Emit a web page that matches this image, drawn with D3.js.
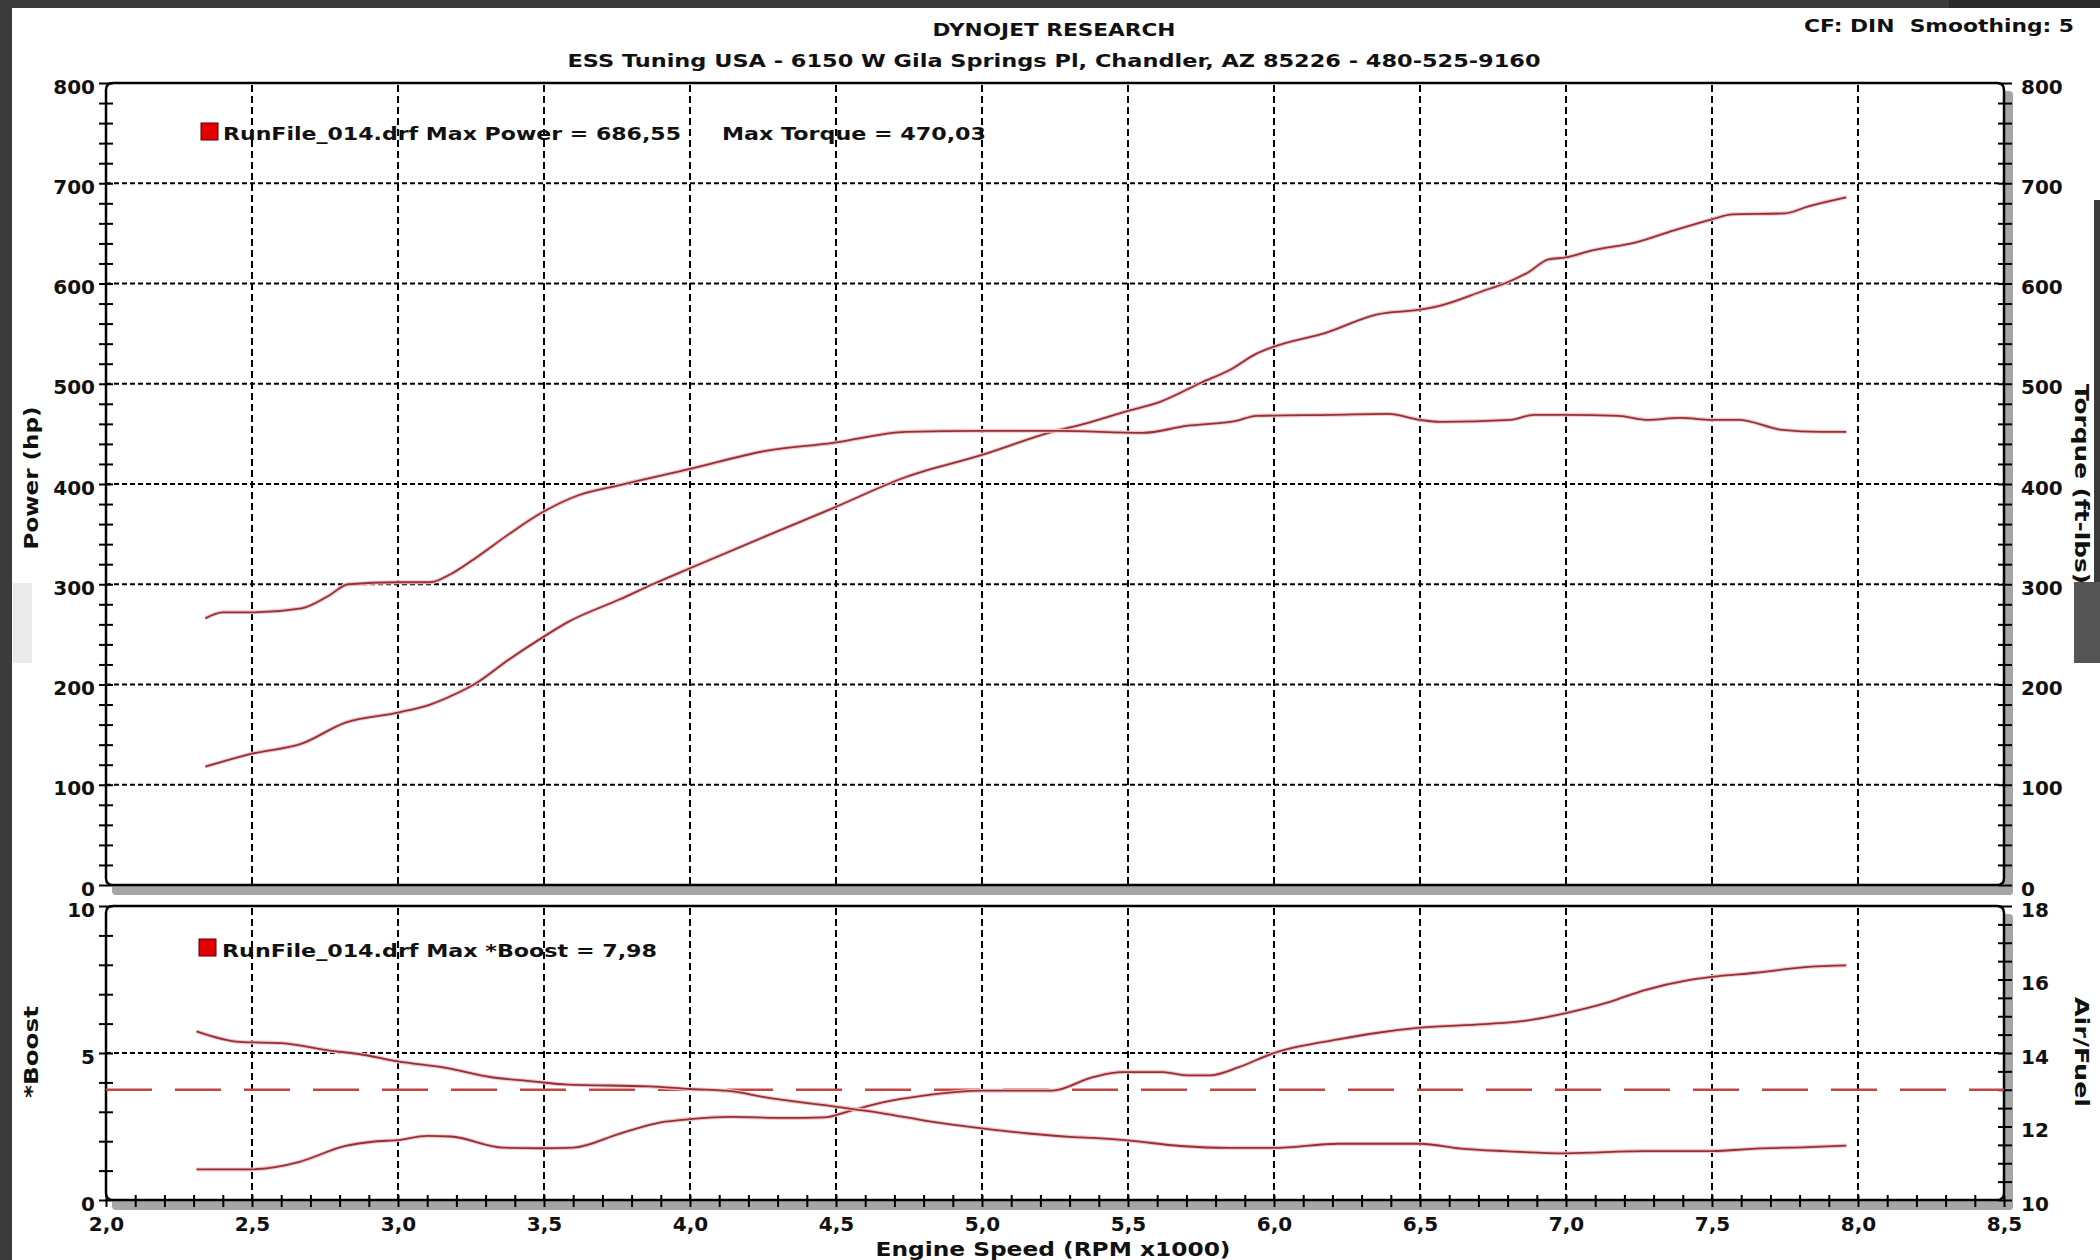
<!DOCTYPE html>
<html><head><meta charset="utf-8">
<script src="https://cdn.jsdelivr.net/npm/d3@7"></script>
<style>html,body{margin:0;padding:0;background:#fff;overflow:hidden;} svg{display:block;}</style>
</head><body>
<svg id="c" width="2100" height="1260"></svg>
<script>
// ---------- data read from the dyno sheet ----------
const powerRpm = [2.34,2.50,2.67,2.82,3.00,3.11,3.20,3.26,3.38,3.49,3.58,3.76,3.88,4.00,4.26,4.49,4.74,5.00,5.24,5.35,5.50,5.61,5.75,5.85,5.94,6.00,6.18,6.35,6.50,6.57,6.72,6.79,6.87,6.94,7.00,7.09,7.24,7.37,7.50,7.57,7.75,7.83,7.96];
const powerHp = [118,131,141,162,172,180,191,200,225,246,262,285,301,316,348,376,407,429,452,460,473,482,501,514,530,537,551,569,574,578,593,600,611,624,626,633,641,653,664,669,670,677,686];
const torqueRpm = [2.34,2.40,2.50,2.67,2.76,2.83,3.00,3.11,3.18,3.26,3.38,3.49,3.62,3.76,4.00,4.26,4.49,4.74,5.00,5.26,5.55,5.70,5.87,5.94,6.20,6.39,6.50,6.57,6.81,6.89,7.00,7.18,7.28,7.39,7.50,7.59,7.74,7.87,7.96];
const torqueFtLbs = [266,272,272,276,288,300,302,302,310,325,350,371,389,399,415,433,441,452,453,453,451,458,463,468,469,470,464,462,464,469,469,468,464,466,464,464,454,452,452];
const boostRpm = [2.31,2.48,2.58,2.66,2.82,2.92,3.00,3.10,3.18,3.36,3.49,3.60,3.76,3.90,4.00,4.14,4.32,4.46,4.54,4.66,4.80,5.00,5.24,5.38,5.48,5.62,5.70,5.78,5.88,6.00,6.09,6.20,6.35,6.50,6.72,6.87,7.00,7.15,7.27,7.42,7.50,7.65,7.83,7.96];
const boostVals = [1.04,1.04,1.12,1.29,1.84,1.99,2.04,2.18,2.16,1.78,1.76,1.78,2.26,2.64,2.75,2.83,2.79,2.81,3.01,3.32,3.55,3.72,3.72,4.18,4.35,4.35,4.24,4.24,4.52,5.00,5.23,5.43,5.68,5.86,5.98,6.11,6.36,6.74,7.14,7.48,7.59,7.73,7.93,7.98];
const afrRpm = [2.31,2.46,2.60,2.78,2.86,3.00,3.16,3.32,3.46,3.58,3.86,4.00,4.14,4.26,4.49,4.66,4.82,5.00,5.16,5.30,5.38,5.50,5.68,5.85,6.00,6.22,6.50,6.64,6.79,7.00,7.27,7.50,7.65,7.83,7.96];
const afrVals = [14.59,14.30,14.27,14.05,13.98,13.77,13.60,13.34,13.23,13.14,13.09,13.02,12.96,12.79,12.55,12.36,12.14,11.95,11.81,11.72,11.69,11.62,11.47,11.42,11.42,11.53,11.53,11.40,11.33,11.27,11.33,11.33,11.40,11.44,11.48];
const afrTarget = 13.0;
const maxPower = "686,55", maxTorque = "470,03", maxBoost = "7,98";
const rpmTicks = [2.0,2.5,3.0,3.5,4.0,4.5,5.0,5.5,6.0,6.5,7.0,7.5,8.0,8.5];
const powerTicks = [0,100,200,300,400,500,600,700,800];
const boostTicks = [0,5,10];
const afrTicks = [10,12,14,16,18];
const titleText = "DYNOJET RESEARCH";
const subTitleText = "ESS Tuning USA - 6150 W Gila Springs Pl, Chandler, AZ 85226 - 480-525-9160";
const cornerText = "CF: DIN  Smoothing: 5";

// ---------- drawing ----------
const F = "'DejaVu Sans', Verdana, sans-serif";
const svg = d3.select("#c");
const x = d3.scaleLinear().domain([2, 8.5]).range([106, 2004]);
const yTop = d3.scaleLinear().domain([0, 800]).range([885, 83]);
const yBoost = d3.scaleLinear().domain([0, 10]).range([1200, 906]);
const yAfr = d3.scaleLinear().domain([10, 18]).range([1200, 906]);
const comma = v => d3.format(".1f")(v).replace(".", ",");

// page frame (screenshot borders)
svg.append("rect").attr("x",0).attr("y",0).attr("width",2100).attr("height",1260).attr("fill","#fff");
svg.append("rect").attr("x",0).attr("y",0).attr("width",2100).attr("height",8).attr("fill","#3b3b3b");
svg.append("rect").attr("x",1949).attr("y",0).attr("width",151).attr("height",8).attr("fill","#2a2a2a");
svg.append("rect").attr("x",0).attr("y",0).attr("width",12).attr("height",1260).attr("fill","#3b3b3b");
svg.append("rect").attr("x",2094).attr("y",200).attr("width",6).attr("height",382).attr("fill","#3b3b3b");
svg.append("rect").attr("x",2074).attr("y",582).attr("width",26).attr("height",81).attr("fill","#555");
svg.append("rect").attr("x",13).attr("y",583).attr("width",19).attr("height",80).attr("fill","#ebebeb");

function panel(top, bottom) {
  const g = svg.append("g");
  const L = x(2), R = x(8.5);
  g.append("rect").attr("x", L + 6).attr("y", bottom).attr("width", R - L + 3).attr("height", 10).attr("rx", 4).attr("fill", "#a6a6a6");
  g.append("rect").attr("x", R - 1).attr("y", top + 8).attr("width", 10).attr("height", bottom - top + 2).attr("rx", 4).attr("fill", "#a6a6a6");
  return g;
}
panel(yTop(800), yTop(0));
panel(yBoost(10), yBoost(0));

// vertical grid
[[yTop(800), yTop(0)], [yBoost(10), yBoost(0)]].forEach(([t, b]) => {
  svg.append("g").selectAll("line").data(rpmTicks.filter(v => v > 2 && v < 8.5)).join("line")
    .attr("x1", d => x(d)).attr("x2", d => x(d)).attr("y1", t + 2).attr("y2", b)
    .attr("stroke", "#000").attr("stroke-width", 2).attr("stroke-dasharray", "7,4");
});
// horizontal grid
svg.append("g").selectAll("line").data(powerTicks.filter(v => v > 0 && v < 800)).join("line")
  .attr("x1", x(2)).attr("x2", x(8.5)).attr("y1", d => yTop(d)).attr("y2", d => yTop(d))
  .attr("stroke", "#000").attr("stroke-width", 2).attr("stroke-dasharray", "5,3");
svg.append("line").attr("x1", x(2)).attr("x2", x(8.5)).attr("y1", yBoost(5)).attr("y2", yBoost(5))
  .attr("stroke", "#000").attr("stroke-width", 2).attr("stroke-dasharray", "5,3");

// panel frames (rounded)
function frame(t, b) {
  const L = x(2), R = x(8.5), r = 7;
  svg.append("path").attr("d",
    `M${L},${b - r} L${L},${t + r} Q${L},${t} ${L + r},${t} L${R - r},${t} Q${R},${t} ${R},${t + r} L${R},${b - r} Q${R},${b} ${R - r},${b} L${L + r},${b} Q${L},${b} ${L},${b - r}Z`)
    .attr("fill", "none").attr("stroke", "#000").attr("stroke-width", 2.5);
}
frame(yTop(800), yTop(0));
frame(yBoost(10), yBoost(0));

// minor ticks (crossing marks) via d3 axes
function styleTicks(g, a, b) {
  g.select(".domain").remove();
  g.selectAll(".tick line").attr("x1", a).attr("x2", b).attr("stroke", "#000").attr("stroke-width", 2);
}
svg.append("g").attr("transform", `translate(${x(2)},0)`)
  .call(d3.axisLeft(yTop).tickValues(d3.range(0, 801, 20)).tickFormat("").tickSize(0))
  .call(g => styleTicks(g, -7, 7));
svg.append("g").attr("transform", `translate(${x(8.5)},0)`)
  .call(d3.axisRight(yTop).tickValues(d3.range(0, 801, 20)).tickFormat("").tickSize(0))
  .call(g => styleTicks(g, -6, 8));
svg.append("g").attr("transform", `translate(${x(2)},0)`)
  .call(d3.axisLeft(yBoost).tickValues(d3.range(0, 10.01, 1)).tickFormat("").tickSize(0))
  .call(g => styleTicks(g, -7, 7));
svg.append("g").attr("transform", `translate(${x(8.5)},0)`)
  .call(d3.axisRight(yAfr).tickValues(d3.range(10, 18.01, 0.5)).tickFormat("").tickSize(0))
  .call(g => styleTicks(g, -6, 8));
svg.append("g").attr("transform", `translate(0,${yBoost(0)})`)
  .call(d3.axisBottom(x).tickValues(d3.range(20, 86, 1).map(v => v / 10)).tickFormat("").tickSize(0))
  .call(g => { g.select(".domain").remove(); g.selectAll(".tick line").attr("y1", -5).attr("y2", 7).attr("stroke", "#000").attr("stroke-width", 2); });

// tick labels via d3 axes
function labelAxis(g) {
  g.select(".domain").remove();
  g.selectAll(".tick line").remove();
  g.attr("font-family", F).attr("font-size", 20).attr("font-weight", "bold");
  g.selectAll("text").attr("fill", "#111").attr("dy", "0.36em");
}
svg.append("g").attr("transform", `translate(${x(2)},3)`)
  .call(d3.axisLeft(yTop).tickValues(powerTicks).tickSize(0).tickPadding(11).tickFormat(d3.format("d"))).call(labelAxis);
svg.append("g").attr("transform", `translate(${x(8.5)},3)`)
  .call(d3.axisRight(yTop).tickValues(powerTicks).tickSize(0).tickPadding(17).tickFormat(d3.format("d"))).call(labelAxis);
svg.append("g").attr("transform", `translate(${x(2)},3)`)
  .call(d3.axisLeft(yBoost).tickValues(boostTicks).tickSize(0).tickPadding(11).tickFormat(d3.format("d"))).call(labelAxis);
svg.append("g").attr("transform", `translate(${x(8.5)},3)`)
  .call(d3.axisRight(yAfr).tickValues(afrTicks).tickSize(0).tickPadding(17).tickFormat(d3.format("d"))).call(labelAxis);
svg.append("g").attr("transform", `translate(0,${yBoost(0)})`)
  .call(d3.axisBottom(x).tickValues(rpmTicks).tickSize(0).tickFormat(comma))
  .call(g => { labelAxis(g); g.selectAll("text").attr("y", 31).attr("dy", 0); });

// target AFR dashed line
svg.append("line").attr("x1", x(2)).attr("x2", x(8.5)).attr("y1", yAfr(afrTarget)).attr("y2", yAfr(afrTarget))
  .attr("stroke", "#c24444").attr("stroke-width", 2.6).attr("stroke-dasharray", "46,23");

// curves
function curve(xs, ys, yScale) {
  const data = xs.map((r, i) => [r, ys[i]]);
  const line = d3.line().x(d => x(d[0])).y(d => yScale(d[1])).curve(d3.curveMonotoneX);
  svg.append("path").datum(data).attr("d", line).attr("fill", "none")
    .attr("stroke", "#f2c4c4").attr("stroke-width", 4).attr("stroke-linejoin", "round");
  svg.append("path").datum(data).attr("d", line).attr("fill", "none")
    .attr("stroke", "#963038").attr("stroke-width", 1.8).attr("stroke-linejoin", "round");
}
curve(powerRpm, powerHp, yTop);
curve(torqueRpm, torqueFtLbs, yTop);
curve(boostRpm, boostVals, yBoost);
curve(afrRpm, afrVals, yAfr);

// text helper
function txt(s, xx, yy, opt = {}) {
  const t = svg.append("text").attr("x", xx).attr("y", yy).text(s)
    .attr("font-family", F).attr("font-weight", "bold").attr("font-size", opt.size || 18)
    .attr("fill", "#111").attr("text-anchor", opt.anchor || "start");
  if (opt.len) t.attr("textLength", opt.len).attr("lengthAdjust", "spacingAndGlyphs");
  if (opt.rot) t.attr("transform", `rotate(${opt.rot},${xx},${yy})`);
  return t;
}
txt(titleText, 1054, 36, {anchor: "middle", len: 243});
txt(subTitleText, 1054, 67, {anchor: "middle", len: 973});
txt(cornerText, 1804, 32, {len: 270}).attr("xml:space", "preserve");

// legends
svg.append("rect").attr("x", 201).attr("y", 123).attr("width", 17).attr("height", 17).attr("fill", "#e40000").attr("stroke", "#5a0000").attr("stroke-width", 1);
txt(`RunFile_014.drf Max Power = ${maxPower}`, 223, 140, {len: 458});
txt(`Max Torque = ${maxTorque}`, 722, 140, {len: 264});
svg.append("rect").attr("x", 199).attr("y", 939).attr("width", 17).attr("height", 17).attr("fill", "#e40000").attr("stroke", "#5a0000").attr("stroke-width", 1);
txt(`RunFile_014.drf Max *Boost = ${maxBoost}`, 222, 957, {len: 435});

// axis titles
txt("Power (hp)", 38, 478, {anchor: "middle", size: 20, rot: -90, len: 143});
txt("*Boost", 38, 1052, {anchor: "middle", size: 20, rot: -90, len: 92});
txt("Torque (ft-lbs)", 2075, 484, {anchor: "middle", size: 20, rot: 90, len: 200});
txt("Air/Fuel", 2075, 1052, {anchor: "middle", size: 20, rot: 90, len: 110});
txt("Engine Speed (RPM x1000)", 1053, 1256, {anchor: "middle", size: 20, len: 355});
</script>
</body></html>
